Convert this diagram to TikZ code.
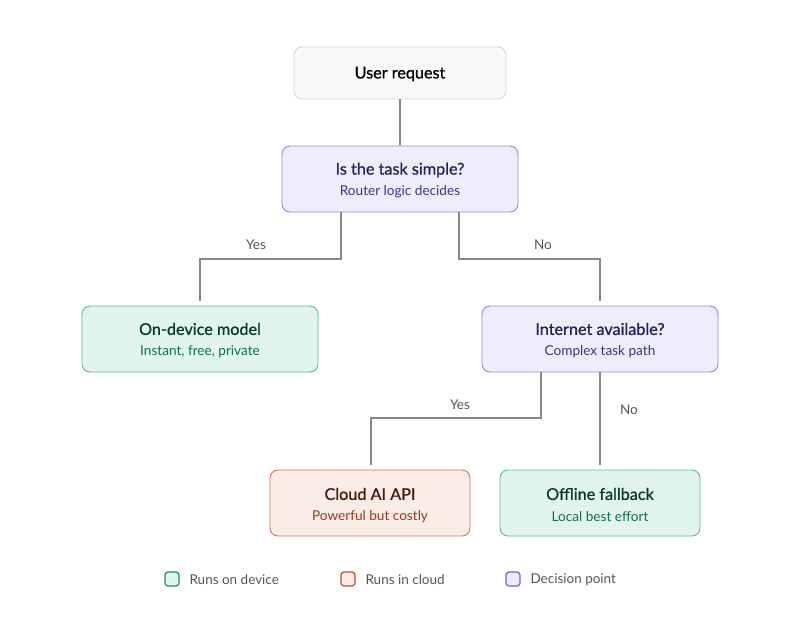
\documentclass[tikz,border=0pt]{standalone}
\usepackage{fontspec}
\setmainfont{Lato}
\newfontfamily\ttlfont[FakeBold=0.9]{Lato}
\definecolor{linec}{HTML}{8A8985}
\definecolor{grayfill}{HTML}{F9F9F7}
\definecolor{graydraw}{HTML}{D6D5CF}
\definecolor{grnfill}{HTML}{E1F5EE}
\definecolor{grndraw}{HTML}{5DB89A}
\definecolor{grnleg}{HTML}{1D8A68}
\definecolor{grnt}{HTML}{0A3A2E}
\definecolor{grns}{HTML}{0F6E56}
\definecolor{purfill}{HTML}{EEEDFE}
\definecolor{purdraw}{HTML}{8F88E0}
\definecolor{purleg}{HTML}{6B63D6}
\definecolor{purt}{HTML}{26215C}
\definecolor{purs}{HTML}{3C3489}
\definecolor{redfill}{HTML}{FAECE7}
\definecolor{reddraw}{HTML}{D0775A}
\definecolor{redleg}{HTML}{B5522F}
\definecolor{redt}{HTML}{4A1B0C}
\definecolor{reds}{HTML}{993C1D}
\definecolor{labc}{HTML}{555450}
\tikzset{
  box/.style={rounded corners=8pt, line width=0.9pt, inner sep=0pt},
  conn/.style={draw=linec, line width=2pt},
  lab/.style={font=\fontsize{13.5}{15}\selectfont, text=labc},
  ttl/.style={font=\ttlfont\fontsize{16.2}{18}\selectfont},
  sub/.style={font=\fontsize{13.6}{15}\selectfont},
  leg/.style={rounded corners=3pt, line width=1.2pt, minimum size=14pt, inner sep=0pt},
}
\begin{document}
\begin{tikzpicture}[x=1pt,y=-1pt]
\useasboundingbox (0,0) rectangle (800,624);
% boxes
\draw[box, fill=grayfill, draw=graydraw] (294,47) rectangle (506,99);
\node[ttl, text=black] (ur) at (400,74) {User request};

\draw[box, fill=purfill, draw=purdraw] (282,146) rectangle (518,212);
\node[ttl, text=purt] (q1) at (400,170) {Is the task simple?};
\node[sub, text=purs] (q1s) at (400,192) {Router logic decides};

\draw[box, fill=grnfill, draw=grndraw] (82,306) rectangle (318,372);
\node[ttl, text=grnt] (od) at (200,329) {On-device model};
\node[sub, text=grns] (ods) at (200,352) {Instant, free, private};

\draw[box, fill=purfill, draw=purdraw] (482,306) rectangle (718,372);
\node[ttl, text=purt] (q2) at (600,329) {Internet available?};
\node[sub, text=purs] (q2s) at (600,352) {Complex task path};

\draw[box, fill=redfill, draw=reddraw] (270,470) rectangle (470,536);
\node[ttl, text=redt] (cl) at (370,494) {Cloud AI API};
\node[sub, text=reds] (cls) at (370,517) {Powerful but costly};

\draw[box, fill=grnfill, draw=grndraw] (500,470) rectangle (700,536);
\node[ttl, text=grnt] (of) at (600,494) {Offline fallback};
\node[sub, text=grns] (ofs) at (600,517) {Local best effort};

% connector anchor coordinates
\coordinate (a1) at (400,99);  \coordinate (a2) at (400,145);
\coordinate (b1) at (341,212); \coordinate (b2) at (200,301);
\coordinate (c1) at (459,212); \coordinate (c2) at (600,301);
\coordinate (d1) at (541,372); \coordinate (d2) at (371,465);
\coordinate (e1) at (600,372); \coordinate (e2) at (600,465);

\draw[conn] (a1) -- (a2);
\draw[conn] (b1) |- (200,259) -- (b2);
\draw[conn] (c1) |- (600,259) -- (c2);
\draw[conn] (d1) |- (371,418) -- (d2);
\draw[conn] (e1) -- (e2);

\node[lab] (l1) at (256,245) {Yes};
\node[lab] (l2) at (543,245) {No};
\node[lab] (l3) at (460,405) {Yes};
\node[lab] (l4) at (629,410) {No};

% legend
\node[leg, fill=grnfill, draw=grnleg] (g1) at (172,579) {};
\node[lab, anchor=west] (g1t) at (186,580) {Runs on device};
\node[leg, fill=redfill, draw=redleg] (g2) at (348,579) {};
\node[lab, anchor=west] (g2t) at (362,580) {Runs in cloud};
\node[leg, fill=purfill, draw=purleg] (g3) at (513,579) {};
\node[lab, anchor=west] (g3t) at (527,580) {Decision point};
\end{tikzpicture}
\end{document}
